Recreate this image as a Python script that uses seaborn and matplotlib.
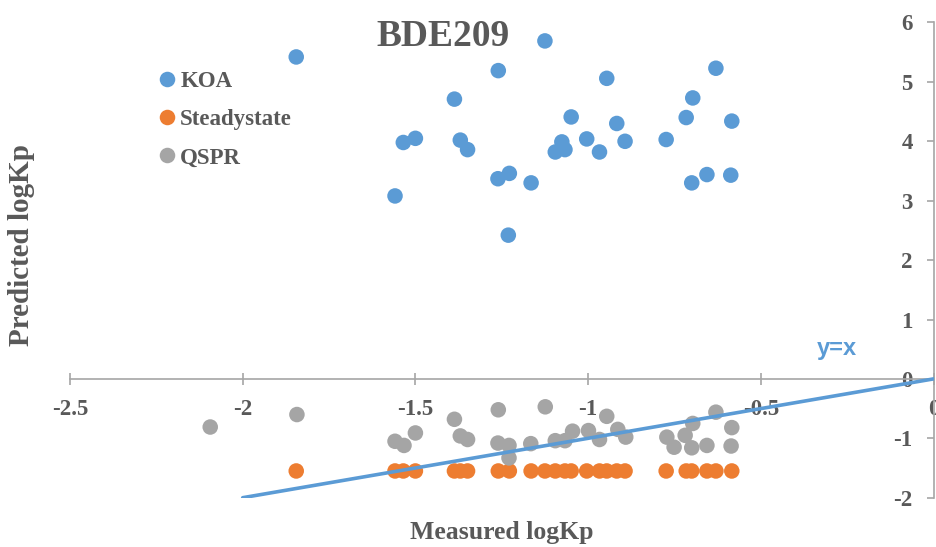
import numpy as np
import pandas as pd
import matplotlib
matplotlib.use("Agg")
import matplotlib.pyplot as plt
import seaborn as sns

# ---- data ----
koa_x = [-1.845, -1.125, -1.260, -1.387, -1.049, -1.535, -1.500, -1.370, -1.349,
         -1.076, -1.095, -1.067, -1.004, -1.261, -1.228, -1.165, -1.559, -1.231,
         -0.946, -0.630, -0.697, -0.716, -0.584, -0.917, -0.967, -0.893, -0.774,
         -0.700, -0.656, -0.587]
koa_y = [5.42, 5.69, 5.19, 4.71, 4.41, 3.98, 4.05, 4.02, 3.86,
         3.99, 3.82, 3.86, 4.04, 3.37, 3.46, 3.30, 3.08, 2.42,
         5.06, 5.23, 4.73, 4.40, 4.34, 4.30, 3.82, 4.00, 4.03,
         3.30, 3.44, 3.43]

steady_x = [-1.845, -1.559, -1.535, -1.500, -1.387, -1.370, -1.349, -1.260, -1.228,
            -1.165, -1.125, -1.095, -1.067, -1.049, -1.004, -0.967, -0.946, -0.917,
            -0.893, -0.774, -0.716, -0.700, -0.656, -0.630, -0.584]
steady_y = [-1.55] * len(steady_x)

qspr_x = [-2.094, -1.843, -1.559, -1.533, -1.500, -1.387, -1.370, -1.349, -1.260,
          -1.261, -1.229, -1.229, -1.166, -1.124, -1.095, -1.067, -1.045, -0.999,
          -0.967, -0.946, -0.914, -0.891, -0.772, -0.751, -0.719, -0.700, -0.697,
          -0.656, -0.630, -0.584, -0.586]
qspr_y = [-0.81, -0.60, -1.05, -1.12, -0.91, -0.68, -0.96, -1.02, -0.52,
          -1.08, -1.12, -1.33, -1.09, -0.47, -1.04, -1.04, -0.88, -0.87,
          -1.02, -0.63, -0.85, -0.98, -0.98, -1.15, -0.95, -1.16, -0.75,
          -1.12, -0.56, -0.82, -1.13]

line_x = [-2.0, 0.0]
line_y = [-2.0, 0.0]

x_ticks = [-2.5, -2.0, -1.5, -1.0, -0.5, 0.0]
x_ticklabels = ["-2.5", "-2", "-1.5", "-1", "-0.5", "0"]
y_ticks = [-2, -1, 0, 1, 2, 3, 4, 5, 6]
y_ticklabels = ["-2", "-1", "0", "1", "2", "3", "4", "5", "6"]

series_names = ["KOA", "Steadystate", "QSPR"]
colors = {"KOA": "#5B9BD5", "Steadystate": "#ED7D31", "QSPR": "#A5A5A5"}

df = pd.concat([
    pd.DataFrame({"x": koa_x, "y": koa_y, "series": "KOA"}),
    pd.DataFrame({"x": steady_x, "y": steady_y, "series": "Steadystate"}),
    pd.DataFrame({"x": qspr_x, "y": qspr_y, "series": "QSPR"}),
])

sns.set_style("white")
plt.rcParams["font.family"] = ["Liberation Serif", "DejaVu Serif"]

TXT = "#595959"
AX = "#A6A6A6"

fig = plt.figure(figsize=(9.36, 5.47), dpi=100)
ax = fig.add_axes([70 / 936, 1 - 497.7 / 547, (933.5 - 70) / 936, (497.7 - 22.5) / 547])

sns.scatterplot(data=df, x="x", y="y", hue="series", hue_order=series_names,
                palette=colors, s=125, edgecolor="none", linewidth=0, ax=ax,
                zorder=3, clip_on=False)
sns.lineplot(x=line_x, y=line_y, color="#5B9BD5", linewidth=2.6, ax=ax, zorder=4)

ax.set_xlim(-2.5, 0)
ax.set_ylim(-2, 6)

for s in ["top", "left"]:
    ax.spines[s].set_visible(False)
ax.spines["bottom"].set_position(("data", 0))
ax.spines["bottom"].set_color(AX)
ax.spines["right"].set_color(AX)
ax.spines["bottom"].set_linewidth(1.2)
ax.spines["right"].set_linewidth(1.2)
ax.spines["bottom"].set_zorder(1)
ax.spines["right"].set_zorder(1)

ax.set_xticks(x_ticks)
ax.set_xticklabels(x_ticklabels)
ax.set_yticks(y_ticks)
ax.set_yticklabels(y_ticklabels)

ax.tick_params(axis="x", bottom=True, direction="inout", length=9, width=1.2,
               color=AX, pad=10, labelsize=16.5, labelcolor=TXT)
ax.tick_params(axis="y", left=False, right=True, labelleft=False, labelright=True,
               direction="in", length=5, width=1.2, color=AX, pad=-15,
               labelsize=16.5, labelcolor=TXT)
for lab in ax.get_xticklabels() + ax.get_yticklabels():
    lab.set_fontweight("bold")
for lab in ax.get_yticklabels():
    lab.set_horizontalalignment("right")

ax.set_xlabel("")
ax.set_ylabel("")
ax.grid(False)

fig.text(443 / 936, 1 - 37 / 547, "BDE209", ha="center", va="center",
         fontsize=27, fontweight="bold", color=TXT)
fig.text(502 / 936, 1 - 533 / 547, "Measured logKp", ha="center", va="center",
         fontsize=18.5, fontweight="bold", color=TXT)
fig.text(22 / 936, 1 - 245 / 547, "Predicted logKp", ha="center", va="center",
         rotation=90, fontsize=21, fontweight="bold", color=TXT)
ax.text(-0.28, 0.51, "y=x", ha="center", va="center", fontsize=17,
        fontweight="bold", color="#5B9BD5", family=["Liberation Sans", "DejaVu Sans"])

leg = ax.legend(loc="upper left", bbox_to_anchor=(0.099, 0.898), frameon=False,
                handlelength=1.0, handletextpad=0.08, labelspacing=0.75,
                borderaxespad=0, borderpad=0,
                prop={"weight": "bold", "size": 16.5, "family": "Liberation Serif"},
                markerscale=1.0)
for t in leg.get_texts():
    t.set_color(TXT)

fig.savefig("out.png", dpi=100)
